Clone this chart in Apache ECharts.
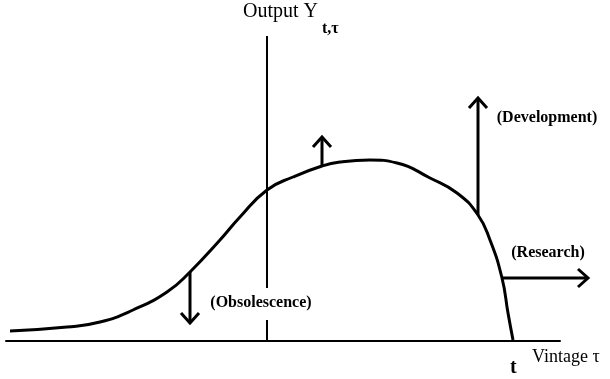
<!DOCTYPE html>
<html>
<head>
<meta charset="utf-8">
<script src="https://cdn.jsdelivr.net/npm/echarts@6/dist/echarts.min.js"></script>
<style>html,body{margin:0;padding:0;background:#fff}#main{width:610px;height:379px}</style>
</head>
<body>
<div id="main"></div>
<script>
// x = vintage measured from the output axis, y = output measured from the vintage axis
var vintage = [-257, -200, -167, -134, -100, -77, -47, -27, 0, 26, 55, 73, 103, 130, 163, 190, 211, 223, 235, 241, 246];
var output  = [10, 14, 19, 31, 49, 69, 101, 124, 151, 164, 175, 179, 181, 178, 163, 148, 126, 101, 63, 28, 1];

// shifts of the curve
var arrowFrom = [[-77, 69], [55, 175], [211, 126], [236, 63]];
var arrowTo   = [[-77, 18], [55, 204], [211, 243], [321, 63]];

var labelText = ['(Obsolescence)', '(Development)', '(Research)'];
var labelPos  = [[-6, 38], [280, 223], [281, 88]];

// the output axis is broken where the obsolescence label crosses it
var axisGap = [21, 53];
var yMax = 305;

var serif = '"Liberation Serif", "DejaVu Serif", serif';

var mychart = echarts.init(document.getElementById('main'));

function renderArrow(params, api) {
    var p0 = api.coord([api.value(0), api.value(1)]);
    var p1 = api.coord([api.value(2), api.value(3)]);
    var dx = p1[0] - p0[0], dy = p1[1] - p0[1];
    var len = Math.sqrt(dx * dx + dy * dy);
    var ux = dx / len, uy = dy / len;
    var hl = 10, hw = 9;   // arrow head length / half width
    var a = [p1[0] - ux * hl - uy * hw, p1[1] - uy * hl + ux * hw];
    var b = [p1[0] - ux * hl + uy * hw, p1[1] - uy * hl - ux * hw];
    return {
        type: 'group',
        children: [
            {type: 'line', shape: {x1: p0[0], y1: p0[1], x2: p1[0], y2: p1[1]},
                style: {stroke: '#000', lineWidth: 3}},
            {type: 'polyline', shape: {points: [a, p1, b]},
                style: {stroke: '#000', lineWidth: 3, fill: null, lineJoin: 'miter'}}
        ]
    };
}

function renderLabel(params, api) {
    var p = api.coord([api.value(0), api.value(1)]);
    return {type: 'text', style: {
        x: p[0], y: p[1], text: labelText[params.dataIndex],
        fill: '#000', font: 'bold 16px ' + serif,
        align: 'center', verticalAlign: 'middle'
    }};
}

var option = {
    backgroundColor: '#fff',
    animation: false,
    title: [
        {text: 'Output Y', left: 243, top: 2, padding: 0,
            textStyle: {fontFamily: serif, fontSize: 20, fontWeight: 'normal', color: '#000'}},
        {text: 't,τ', left: 322, top: 21, padding: 0,
            textStyle: {fontFamily: serif, fontSize: 16, fontWeight: 'bold', color: '#000'}},
        {text: 't', left: 510, top: 358, padding: 0,
            textStyle: {fontFamily: serif, fontSize: 20, fontWeight: 'bold', color: '#000'}},
        {text: 'Vintage τ', left: 532, top: 348, padding: 0,
            textStyle: {fontFamily: serif, fontSize: 18, fontWeight: 'normal', color: '#000'}}
    ],
    grid: {left: 6, right: 50, top: 36, bottom: 38},
    xAxis: {
        type: 'value', min: -261, max: 293,
        axisLine: {show: true, onZero: true, lineStyle: {color: '#000', width: 2}},
        axisTick: {show: false}, axisLabel: {show: false}, splitLine: {show: false}
    },
    yAxis: {
        type: 'value', min: 0, max: yMax,
        axisLine: {show: false},
        axisTick: {show: false}, axisLabel: {show: false}, splitLine: {show: false}
    },
    series: [
        {
            type: 'line',
            smooth: 0.5,
            symbol: 'none',
            lineStyle: {color: '#000', width: 3},
            data: vintage.map(function (v, i) { return [v, output[i]]; }),
            markLine: {
                silent: true,
                symbol: 'none',
                label: {show: false},
                lineStyle: {color: '#000', width: 2, type: 'solid'},
                data: [
                    [{coord: [0, 0]}, {coord: [0, axisGap[0]]}],
                    [{coord: [0, axisGap[1]]}, {coord: [0, yMax]}]
                ]
            },
            z: 3
        },
        {
            type: 'custom',
            clip: false,
            encode: {x: [0, 2], y: [1, 3]},
            renderItem: renderArrow,
            data: arrowFrom.map(function (f, i) { return [f[0], f[1], arrowTo[i][0], arrowTo[i][1]]; }),
            z: 4
        },
        {
            type: 'custom',
            clip: false,
            renderItem: renderLabel,
            data: labelPos,
            z: 10
        }
    ]
};
mychart.setOption(option);
</script>
</body>
</html>
